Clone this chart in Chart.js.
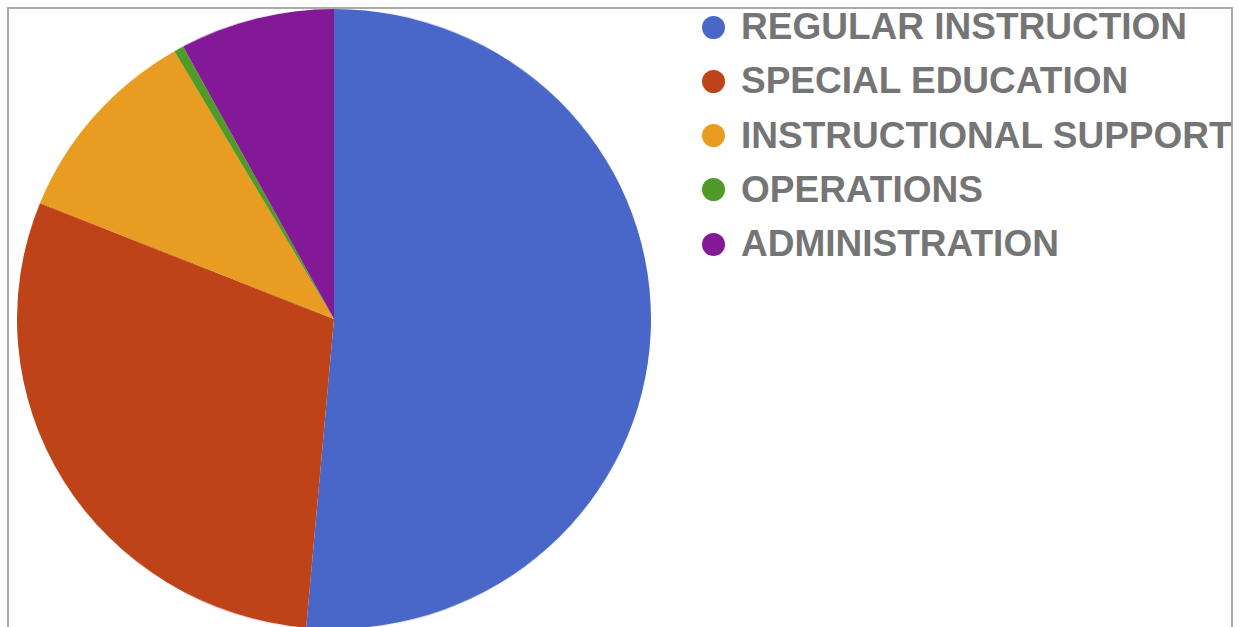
<!DOCTYPE html>
<html>
<head>
<meta charset="utf-8">
<script src="https://cdn.jsdelivr.net/npm/chart.js@4/dist/chart.umd.min.js"></script>
<style>
  html, body { margin: 0; padding: 0; background: #fff; overflow: hidden; }
  body { width: 1239px; height: 627px; position: relative; }
  #frame {
    position: absolute; left: 7px; top: 7px; width: 1222px; height: 640px;
    border: 2px solid #a9a9a9; border-bottom: none;
  }
  #pie { position: absolute; left: 17px; top: 9px; }
  #legend {
    position: absolute; left: 702px; top: 0px;
    font-family: "Liberation Sans", Arial, sans-serif; font-weight: bold;
    font-size: 37px; color: #757575; white-space: nowrap;
  }
  .row { position: absolute; left: 0; height: 40px; display: flex; align-items: center; }
  .dot { width: 23px; height: 23px; border-radius: 50%; margin-right: 16px; flex: none; }
</style>
</head>
<body>
<div id="frame"></div>
<canvas id="pie" width="634" height="634" style="width:634px;height:620px;"></canvas>
<div id="legend"></div>
<script>
// Share of spending by category (percent)
const categories = ['REGULAR INSTRUCTION', 'SPECIAL EDUCATION', 'INSTRUCTIONAL SUPPORT', 'OPERATIONS', 'ADMINISTRATION'];
const shares = [51.4, 29.7, 10.5, 0.5, 7.9];
const colors = ['#4967C9', '#BE4318', '#E89D22', '#509B28', '#831996'];

new Chart(document.getElementById('pie'), {
  type: 'pie',
  data: {
    labels: categories,
    datasets: [{ data: shares, backgroundColor: colors, borderWidth: 0 }]
  },
  options: {
    responsive: false,
    animation: false,
    layout: { padding: 0 },
    plugins: { legend: { display: false }, tooltip: { enabled: false } }
  }
});

// Legend rows built from the same category list
const legend = document.getElementById('legend');
categories.forEach((name, i) => {
  const row = document.createElement('div');
  row.className = 'row';
  row.style.top = (7 + i * 54.3) + 'px';
  const dot = document.createElement('span');
  dot.className = 'dot';
  dot.style.background = colors[i];
  const txt = document.createElement('span');
  txt.textContent = name;
  row.appendChild(dot);
  row.appendChild(txt);
  legend.appendChild(row);
});
</script>
</body>
</html>
